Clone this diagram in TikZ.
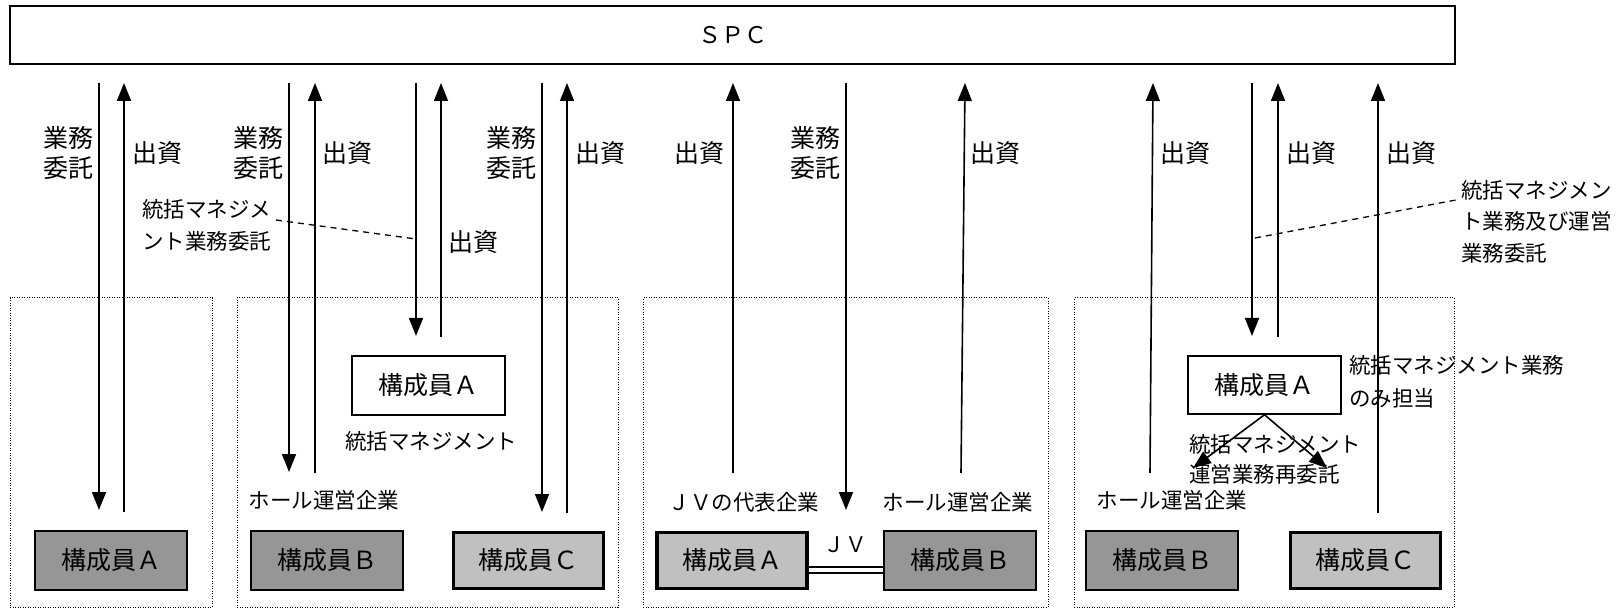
\documentclass[tikz,border=0pt]{standalone}
\usepackage{fontspec}
\setmainfont{Noto Sans CJK JP}
\usetikzlibrary{arrows.meta}
\definecolor{dkgray}{HTML}{969696}
\definecolor{ltgray}{HTML}{C0C0C0}
\tikzset{
  arr/.style={line width=1.6pt, -{Triangle[width=14pt,length=18pt]}},
  grp/.style={draw, line width=1pt, dash pattern=on 1pt off 1.5pt, inner sep=0},
  mem/.style={draw, line width=1.5pt, minimum width=152pt, minimum height=59pt, inner sep=0, font=\fontsize{25}{28}\selectfont},
  memdk/.style={mem, fill=dkgray},
  memlt/.style={mem, fill=ltgray, line width=3.5pt, minimum width=150pt, minimum height=56pt},
  memwh/.style={mem, fill=white},
  lbl/.style={inner sep=0, font=\fontsize{25}{30}\selectfont},
  sml/.style={inner sep=0, font=\fontsize{21.5}{30}\selectfont},
  dsh/.style={line width=1.3pt, dash pattern=on 6pt off 5pt},
}
\begin{document}
\begin{tikzpicture}[x=1pt,y=-1pt]
\useasboundingbox (0,0) rectangle (1618,612);
% SPC
\node[draw, line width=1.5pt, minimum width=1445pt, minimum height=58pt, inner sep=0, font=\fontsize{23}{26}\selectfont] (spc) at (732.5,35) {ＳＰＣ};
% groups
\node[grp, minimum width=202pt, minimum height=309pt] (g1) at (111,452.5) {};
\node[grp, minimum width=381pt, minimum height=309pt] (g2) at (427.5,452.5) {};
\node[grp, minimum width=405pt, minimum height=309pt] (g3) at (845.5,452.5) {};
\node[grp, minimum width=380pt, minimum height=309pt] (g4) at (1264,452.5) {};
% member boxes
\node[memdk] (g1a) at (111,560.5) {構成員Ａ};
\node[memwh, minimum width=153pt] (g2a) at (428.5,385.5) {構成員Ａ};
\node[memdk] (g2b) at (327,560.5) {構成員Ｂ};
\node[memlt] (g2c) at (528.5,560.5) {構成員Ｃ};
\node[memlt] (g3a) at (732,560.5) {構成員Ａ};
\node[memdk] (g3b) at (960,560.5) {構成員Ｂ};
\node[memwh, minimum width=153pt, minimum height=58pt] (g4a) at (1264.5,385) {構成員Ａ};
\node[memdk] (g4b) at (1162,560.5) {構成員Ｂ};
\node[memlt] (g4c) at (1365.5,560.5) {構成員Ｃ};
% arrow end points
\coordinate (d1t) at (99,83);   \coordinate (d1b) at (99,510);
\coordinate (u1b) at (124,512); \coordinate (u1t) at (124,83);
\coordinate (d2t) at (289,83);  \coordinate (d2b) at (289,472);
\coordinate (u2b) at (315,473); \coordinate (u2t) at (315,83);
\coordinate (d3t) at (416,83);  \coordinate (d3b) at (416,336);
\coordinate (u3b) at (441,337); \coordinate (u3t) at (441,83);
\coordinate (d4t) at (542,83);  \coordinate (d4b) at (542,512);
\coordinate (u4b) at (567,513); \coordinate (u4t) at (567,83);
\coordinate (u5b) at (733,473); \coordinate (u5t) at (733,83);
\coordinate (d5t) at (846,83);  \coordinate (d5b) at (846,510);
\coordinate (u6b) at (961,473); \coordinate (u6t) at (965,83);
\coordinate (u7b) at (1150,473); \coordinate (u7t) at (1153,83);
\coordinate (d6t) at (1252,83); \coordinate (d6b) at (1252,336);
\coordinate (u8b) at (1278,337); \coordinate (u8t) at (1278,83);
\coordinate (u9b) at (1378,513); \coordinate (u9t) at (1378,83);
\foreach \a/\b in {d1t/d1b,u1b/u1t,d2t/d2b,u2b/u2t,d3t/d3b,u3b/u3t,d4t/d4b,u4b/u4t,u5b/u5t,d5t/d5b,u6b/u6t,u7b/u7t,d6t/d6b,u8b/u8t,u9b/u9t}
  \draw[arr] (\a) -- (\b);
% labels near arrows
\node[lbl, align=right, anchor=east] (l1) at (94,153) {業務\\委託};
\node[lbl, anchor=west] (l2) at (132,153) {出資};
\node[lbl, align=right, anchor=east] (l3) at (284,153) {業務\\委託};
\node[lbl, anchor=west] (l4) at (322,153) {出資};
\node[lbl, align=right, anchor=east] (l5) at (537,153) {業務\\委託};
\node[lbl, anchor=west] (l6) at (575,153) {出資};
\node[lbl, anchor=east] (l7) at (725,153) {出資};
\node[lbl, align=right, anchor=east] (l8) at (841,153) {業務\\委託};
\node[lbl, anchor=west] (l9) at (970,153) {出資};
\node[lbl, anchor=west] (l10) at (1160,153) {出資};
\node[lbl, anchor=west] (l11) at (1286,153) {出資};
\node[lbl, anchor=west] (l12) at (1386,153) {出資};
\node[lbl] (l13) at (473,242) {出資};
% G2 management label and dashed leader
\node[sml, align=left, anchor=west, font=\fontsize{21.5}{32}\selectfont] (m1) at (142,225) {統括マネジメ\\ント業務委託};
\coordinate (m1e) at (276,220);
\coordinate (m1d) at (416,239);
\draw[dsh] (m1e) -- (m1d);
\node[sml] (t1) at (431,441) {統括マネジメント};
\node[sml] (t2) at (324,500) {ホール運営企業};
% G3 labels
\node[sml] (t3) at (744,502) {ＪＶの代表企業};
\node[sml] (t4) at (958,502) {ホール運営企業};
\node[sml] (jv) at (845,545) {ＪＶ};
\draw[line width=1.8pt, double, double distance=3.5pt] ([yshift=-9.5pt]g3a.east) -- ([yshift=-9.5pt]g3b.west);
% G4 labels
\node[sml, align=left, anchor=west, font=\fontsize{21.5}{31.5}\selectfont] (m2) at (1461,221.5) {統括マネジメン\\ト業務及び運営\\業務委託};
\coordinate (m2s) at (1255,238);
\coordinate (m2e) at (1456,200);
\draw[dsh] (m2s) -- (m2e);
\node[sml, align=left, anchor=west, font=\fontsize{21.5}{33}\selectfont] (t5) at (1349,381.5) {統括マネジメント業務\\のみ担当};
\node[sml, align=left, anchor=west, font=\fontsize{21.5}{30}\selectfont] (t6) at (1189,459) {統括マネジメント\\運営業務再委託};
\node[sml] (t7) at (1172,500) {ホール運営企業};
\coordinate (g4l) at (1193,468);
\coordinate (g4r) at (1327,468);
\draw[arr] (g4a.south) -- (g4l);
\draw[arr] (g4a.south) -- (g4r);
\end{tikzpicture}
\end{document}
